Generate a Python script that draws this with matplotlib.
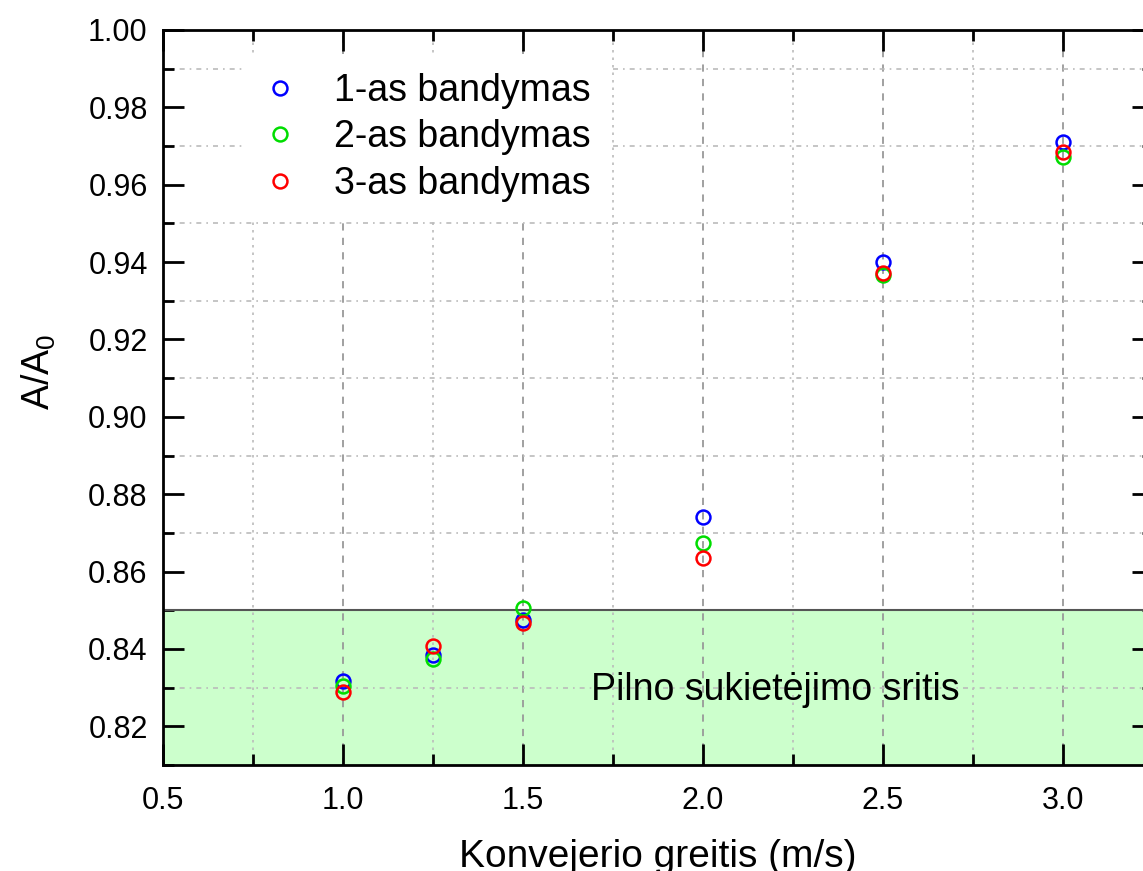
import numpy as np
import matplotlib.pyplot as plt

plt.rcParams['font.family'] = ['Liberation Sans', 'DejaVu Sans']
plt.rcParams['mathtext.default'] = 'regular'

# konvejerio greitis, m/s
greitis = [1.0, 1.25, 1.5, 2.0, 2.5, 3.0]
# A/A0 kiekvienam bandymui
bandymas_1 = [0.8316, 0.8385, 0.8476, 0.8740, 0.9401, 0.9711]
bandymas_2 = [0.8303, 0.8375, 0.8505, 0.8673, 0.9367, 0.9672]
bandymas_3 = [0.8288, 0.8407, 0.8466, 0.8634, 0.9372, 0.9685]
etiketes = ['1-as bandymas', '2-as bandymas', '3-as bandymas']
spalvos = ['#0000ff', '#00dd00', '#ff0000']
riba = 0.85

fig = plt.figure(figsize=(11.43, 8.71), dpi=100)
ax = fig.add_axes([0.1426, 0.1217, 0.8661, 0.8439])
ax.set_xlim(0.5, 3.25)
ax.set_ylim(0.81, 1.00)

# pilno sukietejimo sritis
ax.axhspan(0.81, riba, facecolor='#ccffcc', edgecolor='none', zorder=0)

# tinklelis
for x in np.arange(1.0, 3.01, 0.5):
    ax.axvline(x, color='#999999', lw=1.3, ls=(0, (4, 4)), zorder=1)
for x in np.arange(0.75, 3.26, 0.5):
    ax.axvline(x, color='#bbbbbb', lw=1.2, ls=(0, (1.5, 3)), zorder=1)
for y in np.arange(0.83, 0.995, 0.02):
    ax.axhline(y, color='#bbbbbb', lw=1.2, ls=(0, (3, 3, 1, 3)), zorder=1)
ax.axhline(riba, color='#555555', lw=1.5, zorder=2)

for vals, lab, c in zip([bandymas_1, bandymas_2, bandymas_3], etiketes, spalvos):
    ax.plot(greitis, vals, 'o', mfc='none', mec=c, mew=1.8, ms=10,
            ls='none', label=lab, zorder=3)

ax.text(2.2, 0.8293, 'Pilno sukietėjimo sritis', fontsize=27,
        ha='center', va='center', zorder=4)

ax.set_xticks(np.arange(0.5, 3.01, 0.5))
ax.set_xticks(np.arange(0.75, 3.26, 0.5), minor=True)
ax.set_yticks(np.arange(0.82, 1.001, 0.02))
ax.set_yticks(np.arange(0.81, 1.0, 0.02), minor=True)
ax.set_xticklabels([f'{v:.1f}' for v in np.arange(0.5, 3.01, 0.5)])
ax.set_yticklabels([f'{v:.2f}' for v in np.arange(0.82, 1.001, 0.02)])
ax.tick_params(which='both', direction='in', width=2, labelsize=22,
               top=True, right=True)
ax.tick_params(which='major', length=15)
ax.tick_params(which='minor', length=8)
ax.tick_params(axis='x', which='major', pad=15)
ax.tick_params(axis='y', which='major', pad=11)
for s in ax.spines.values():
    s.set_linewidth(2)

ax.set_xlabel('Konvejerio greitis (m/s)', fontsize=28, labelpad=17)
ax.set_ylabel('A/A$_0$', fontsize=27, labelpad=22, y=0.535)

leg = ax.legend(loc='upper left', bbox_to_anchor=(0.08, 0.967), frameon=True,
                fontsize=27, handletextpad=0.95, labelspacing=0.28,
                borderaxespad=0.0, borderpad=0.5, handlelength=1.0,
                fancybox=False)
leg.get_frame().set_edgecolor('none')
leg.get_frame().set_facecolor('white')
leg.get_frame().set_alpha(1.0)
leg.set_zorder(5)

fig.savefig('out.png', dpi=100)
